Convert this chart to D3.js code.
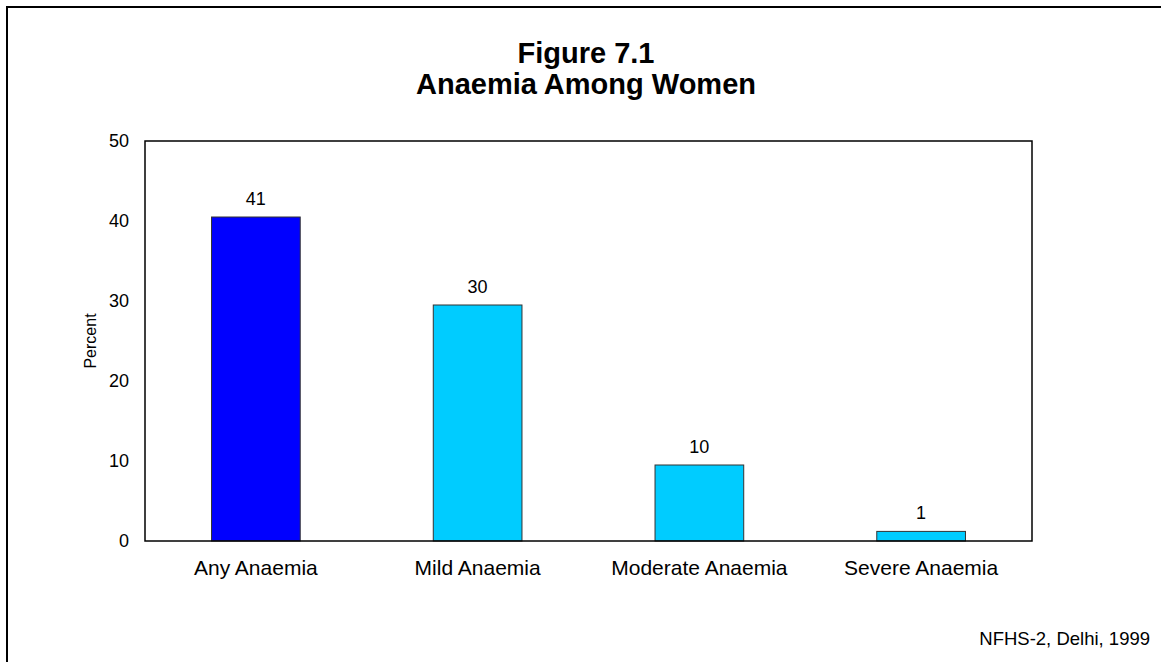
<!DOCTYPE html>
<meta charset="utf-8">

<body style="margin:0;background:#fff">
  <style>
    svg {
      font-family: Arial, "Liberation Sans", sans-serif;
    }
  </style>
  <div id="box"></div>
  <script src="https://d3js.org/d3.v7.min.js"></script>
  <script>
    // chart values
    var categories = ["Any Anaemia", "Mild Anaemia", "Moderate Anaemia", "Severe Anaemia"];
    var values = [40.5, 29.5, 9.5, 1.2];
    var barColors = ["#0000ff", "#00ccff", "#00ccff", "#00ccff"];
    var yTicks = [0, 10, 20, 30, 40, 50];
    var titleLines = ["Figure 7.1", "Anaemia Among Women"];

    var W = 1161, H = 662;
    var plot = { left: 145, right: 1032, top: 141, bottom: 541 };

    var svg = d3.select("#box")
      .append("svg")
      .attr("width", W)
      .attr("height", H);

    // outer frame, runs off the right/bottom edge like the original
    svg.append("rect")
      .attr("x", 7)
      .attr("y", 7)
      .attr("width", W + 20)
      .attr("height", H + 20)
      .attr("fill", "none")
      .attr("stroke", "#000")
      .attr("stroke-width", 2);

    // title
    svg.selectAll(".title")
      .data(titleLines)
      .enter()
      .append("text")
      .attr("class", "title")
      .attr("x", 586)
      .attr("y", function(d, i) { return 63 + i * 31; })
      .attr("text-anchor", "middle")
      .style("font-weight", "bold")
      .style("font-size", "29px")
      .text(function(d) { return d; });

    var xScale = d3.scaleBand()
      .domain(categories)
      .range([plot.left, plot.right]);

    var yScale = d3.scaleLinear()
      .domain([0, 50])
      .range([plot.bottom, plot.top]);

    var barW = xScale.bandwidth() * 0.4;

    // y axis labels
    var yAxis = d3.axisLeft(yScale)
      .tickValues(yTicks)
      .tickSize(0)
      .tickPadding(16);

    var gy = svg.append("g")
      .attr("transform", "translate(" + plot.left + ",0)")
      .call(yAxis);
    gy.select(".domain").remove();
    gy.selectAll("text")
      .style("font-size", "18px")
      .style("font-family", "Arial, 'Liberation Sans', sans-serif")
      .attr("fill", "#000");

    // x axis labels
    var xAxis = d3.axisBottom(xScale)
      .tickSize(0)
      .tickPadding(19);

    var gx = svg.append("g")
      .attr("transform", "translate(0," + plot.bottom + ")")
      .call(xAxis);
    gx.select(".domain").remove();
    gx.selectAll("text")
      .style("font-size", "21px")
      .style("font-family", "Arial, 'Liberation Sans', sans-serif")
      .attr("fill", "#000");

    // bars
    svg.selectAll(".bar")
      .data(values)
      .enter()
      .append("rect")
      .attr("class", "bar")
      .attr("x", function(d, i) { return xScale(categories[i]) + (xScale.bandwidth() - barW) / 2; })
      .attr("y", function(d) { return yScale(d); })
      .attr("width", barW)
      .attr("height", function(d) { return plot.bottom - yScale(d); })
      .attr("fill", function(d, i) { return barColors[i]; })
      .attr("stroke", "#333")
      .attr("stroke-width", 1);

    // value labels
    svg.selectAll(".vlabel")
      .data(values)
      .enter()
      .append("text")
      .attr("class", "vlabel")
      .attr("x", function(d, i) { return xScale(categories[i]) + xScale.bandwidth() / 2; })
      .attr("y", function(d) { return yScale(d) - 12; })
      .attr("text-anchor", "middle")
      .style("font-size", "18px")
      .text(function(d) { return Math.round(d); });

    // plot frame
    svg.append("rect")
      .attr("x", plot.left)
      .attr("y", plot.top)
      .attr("width", plot.right - plot.left)
      .attr("height", plot.bottom - plot.top)
      .attr("fill", "none")
      .attr("stroke", "#000")
      .attr("stroke-width", 1.5);

    // y axis title
    svg.append("text")
      .attr("transform", "translate(96," + ((plot.top + plot.bottom) / 2) + ") rotate(-90)")
      .attr("text-anchor", "middle")
      .style("font-size", "16px")
      .text("Percent");

    // source note
    svg.append("text")
      .attr("x", 1150)
      .attr("y", 645)
      .attr("text-anchor", "end")
      .style("font-size", "18.5px")
      .text("NFHS-2, Delhi, 1999");
  </script>
